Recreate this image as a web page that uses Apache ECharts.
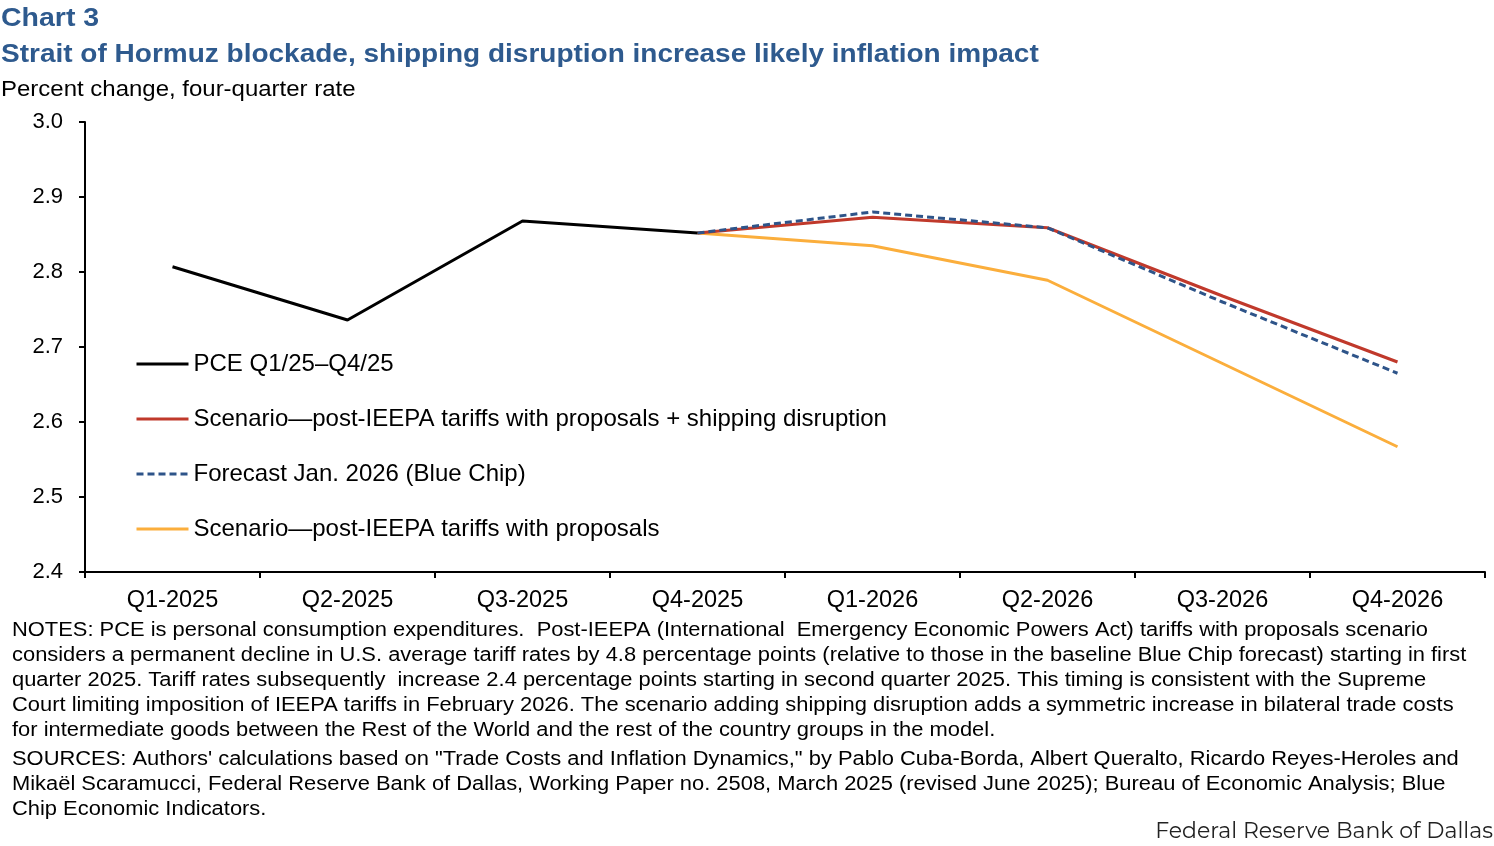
<!DOCTYPE html>
<html>
<head>
<meta charset="utf-8">
<script src="https://cdn.jsdelivr.net/npm/echarts@6/dist/echarts.min.js"></script>
<style>
  html, body { margin: 0; padding: 0; background: #fff; }
  #chart { width: 1494px; height: 846px; }
</style>
</head>
<body>
<div id="chart"></div>
<script>
const categories = ['Q1-2025', 'Q2-2025', 'Q3-2025', 'Q4-2025', 'Q1-2026', 'Q2-2026', 'Q3-2026', 'Q4-2026'];
const pce = [2.807, 2.736, 2.868, 2.852, null, null, null, null];
const shipping = [null, null, null, 2.852, 2.873, 2.859, 2.768, 2.680];
const blueChip = [null, null, null, 2.852, 2.880, 2.859, 2.760, 2.665];
const proposals = [null, null, null, 2.852, 2.835, 2.789, 2.678, 2.567];
const seriesNames = [
  'PCE Q1/25\u2013Q4/25',
  'Scenario\u2014post-IEEPA tariffs with proposals + shipping disruption',
  'Forecast Jan. 2026 (Blue Chip)',
  'Scenario\u2014post-IEEPA tariffs with proposals'
];
const noteLines = [
  'NOTES: PCE is personal consumption expenditures.  Post-IEEPA (International  Emergency Economic Powers Act) tariffs with proposals scenario',
  'considers a permanent decline in U.S. average tariff rates by 4.8 percentage points (relative to those in the baseline Blue Chip forecast) starting in first',
  'quarter 2025. Tariff rates subsequently  increase 2.4 percentage points starting in second quarter 2025. This timing is consistent with the Supreme',
  'Court limiting imposition of IEEPA tariffs in February 2026. The scenario adding shipping disruption adds a symmetric increase in bilateral trade costs',
  'for intermediate goods between the Rest of the World and the rest of the country groups in the model.'
];
const sourceLines = [
  'SOURCES: Authors\' calculations based on "Trade Costs and Inflation Dynamics," by Pablo Cuba-Borda, Albert Queralto, Ricardo Reyes-Heroles and',
  'Mikaël Scaramucci, Federal Reserve Bank of Dallas, Working Paper no. 2508, March 2025 (revised June 2025); Bureau of Economic Analysis; Blue',
  'Chip Economic Indicators.'
];

const font = 'Arial, "Liberation Sans", sans-serif';
const titleBlue = '#2E5A8E';

let chart = echarts.init(document.getElementById('chart'));

// the source text is a little wider than Arial, so stretch it horizontally
let texts = [
  { type: 'text', x: 1, y: 7, scaleX: 1.14, style: { text: 'Chart 3', font: 'bold 25px ' + font, fill: titleBlue } },
  { type: 'text', x: 1, y: 43, scaleX: 1.12, style: { text: 'Strait of Hormuz blockade, shipping disruption increase likely inflation impact', font: 'bold 25px ' + font, fill: titleBlue } },
  { type: 'text', x: 1, y: 79, scaleX: 1.09, style: { text: 'Percent change, four-quarter rate', font: '22px ' + font, fill: '#000' } },
  { type: 'text', right: 1, top: 821, style: { text: 'Federal Reserve Bank of Dallas', font: '22px Montserrat, "Open Sans", sans-serif', fill: '#222' } }
];
noteLines.forEach((t, i) => {
  texts.push({ type: 'text', x: 12, y: 620 + i * 25, scaleX: 1.095, style: { text: t, font: '20px ' + font, fill: '#000' } });
});
sourceLines.forEach((t, i) => {
  texts.push({ type: 'text', x: 12, y: 749 + i * 25, scaleX: 1.095, style: { text: t, font: '20px ' + font, fill: '#000' } });
});

let option = {
  animation: false,
  textStyle: { fontFamily: font },
  graphic: texts,
  grid: { left: 85, right: 9, top: 122, bottom: 274 },
  legend: {
    orient: 'vertical',
    left: 135,
    top: 352,
    padding: 0,
    itemWidth: 52,
    itemHeight: 14,
    itemGap: 31,
    itemStyle: { opacity: 0 },
    lineStyle: { width: 3 },
    textStyle: { fontSize: 24, color: '#000' },
    data: seriesNames
  },
  xAxis: {
    type: 'category',
    data: categories,
    boundaryGap: true,
    axisLine: { lineStyle: { color: '#000', width: 2 } },
    axisTick: { show: true, length: 6, inside: false, lineStyle: { color: '#000', width: 2 } },
    axisLabel: { color: '#000', fontSize: 23.5, margin: 17 }
  },
  yAxis: {
    type: 'value',
    min: 2.4,
    max: 3.0,
    interval: 0.1,
    splitLine: { show: false },
    axisLine: { show: true, lineStyle: { color: '#000', width: 2 } },
    axisTick: { show: true, length: 6, lineStyle: { color: '#000', width: 2 } },
    axisLabel: { color: '#000', fontSize: 22, margin: 22, formatter: v => v.toFixed(1) }
  },
  series: [
    { name: seriesNames[0], type: 'line', data: pce, symbol: 'none', z: 5, lineStyle: { color: '#000', width: 3 }, itemStyle: { color: '#000' } },
    { name: seriesNames[1], type: 'line', data: shipping, symbol: 'none', z: 3, lineStyle: { color: '#C0392B', width: 3 }, itemStyle: { color: '#C0392B' } },
    { name: seriesNames[2], type: 'line', data: blueChip, symbol: 'none', z: 4, lineStyle: { color: '#2E5489', width: 3, type: [7, 4] }, itemStyle: { color: '#2E5489' } },
    { name: seriesNames[3], type: 'line', data: proposals, symbol: 'none', z: 2, lineStyle: { color: '#FBAE3C', width: 3 }, itemStyle: { color: '#FBAE3C' } }
  ]
};

chart.setOption(option);
</script>
</body>
</html>
